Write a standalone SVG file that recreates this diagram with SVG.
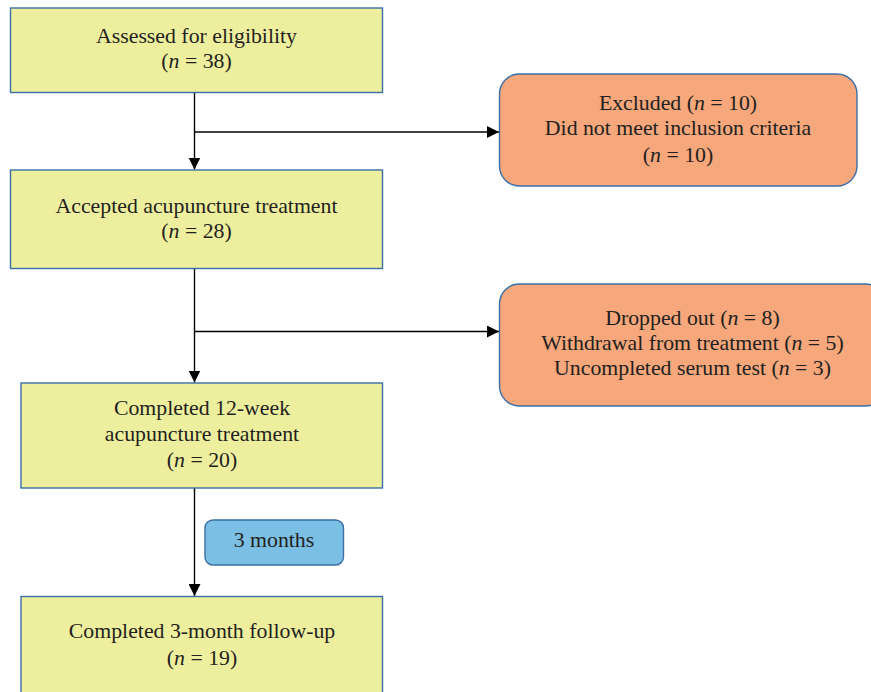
<svg xmlns="http://www.w3.org/2000/svg" width="871" height="692" viewBox="0 0 871 692">
<defs>
<style>
.box{fill:#eeef9e;stroke:#3b6fa6;stroke-width:1.4}
.ex{fill:#f6a77b;stroke:#3b6fa6;stroke-width:1.4}
.bl{fill:#7bbfe4;stroke:#3b6fa6;stroke-width:1.4}
.t{font-family:"Liberation Serif","Times New Roman",serif;font-size:21.8px;fill:#231f20;text-anchor:middle}
.i{font-style:italic}
.ln{stroke:#000;stroke-width:1.4;fill:none}
</style>
<marker id="ah" viewBox="0 0 12 12" refX="12" refY="6" markerWidth="12" markerHeight="12" markerUnits="userSpaceOnUse" orient="auto">
<path d="M0,0 L12,6 L0,12 Z" fill="#000"/>
</marker>
</defs>
<rect width="871" height="692" fill="#fff"/>
<g id="connectors">
<line class="ln" x1="194.5" y1="92.5" x2="194.5" y2="169.5" marker-end="url(#ah)"/>
<line class="ln" x1="194.5" y1="132" x2="499" y2="132" marker-end="url(#ah)"/>
<line class="ln" x1="194.5" y1="269" x2="194.5" y2="382.5" marker-end="url(#ah)"/>
<line class="ln" x1="194.5" y1="331.5" x2="499" y2="331.5" marker-end="url(#ah)"/>
<line class="ln" x1="194.5" y1="488" x2="194.5" y2="596" marker-end="url(#ah)"/>
</g>
<g id="n1">
<rect class="box" x="10.5" y="8" width="372" height="84.5"/>
<text class="t" x="196.5" y="43">Assessed for eligibility</text>
<text class="t" x="196.5" y="68">(<tspan class="i">n</tspan> = 38)</text>
</g>
<g id="n2">
<rect class="box" x="10.5" y="170" width="372" height="98.5"/>
<text class="t" x="196.5" y="213">Accepted acupuncture treatment</text>
<text class="t" x="196.5" y="238">(<tspan class="i">n</tspan> = 28)</text>
</g>
<g id="n3">
<rect class="box" x="21" y="383" width="361.5" height="105"/>
<text class="t" x="202" y="415">Completed 12-week</text>
<text class="t" x="202" y="441">acupuncture treatment</text>
<text class="t" x="202" y="466.5">(<tspan class="i">n</tspan> = 20)</text>
</g>
<g id="n4">
<rect class="box" x="21" y="596.5" width="361.5" height="110"/>
<text class="t" x="202" y="638">Completed 3-month follow-up</text>
<text class="t" x="202" y="665">(<tspan class="i">n</tspan> = 19)</text>
</g>
<g id="n5">
<rect class="bl" x="205" y="520" width="138.5" height="45" rx="8" ry="8"/>
<text class="t" x="274" y="546.5">3 months</text>
</g>
<g id="n6">
<rect class="ex" x="499.5" y="74" width="357.5" height="112" rx="20" ry="20"/>
<text class="t" x="678" y="110">Excluded (<tspan class="i">n</tspan> = 10)</text>
<text class="t" x="678" y="135">Did not meet inclusion criteria</text>
<text class="t" x="678" y="161.5">(<tspan class="i">n</tspan> = 10)</text>
</g>
<g id="n7">
<rect class="ex" x="499.5" y="284" width="386" height="122" rx="20" ry="20"/>
<text class="t" x="692.5" y="325">Dropped out (<tspan class="i">n</tspan> = 8)</text>
<text class="t" x="692.5" y="350">Withdrawal from treatment (<tspan class="i">n</tspan> = 5)</text>
<text class="t" x="692.5" y="375">Uncompleted serum test (<tspan class="i">n</tspan> = 3)</text>
</g>
</svg>
